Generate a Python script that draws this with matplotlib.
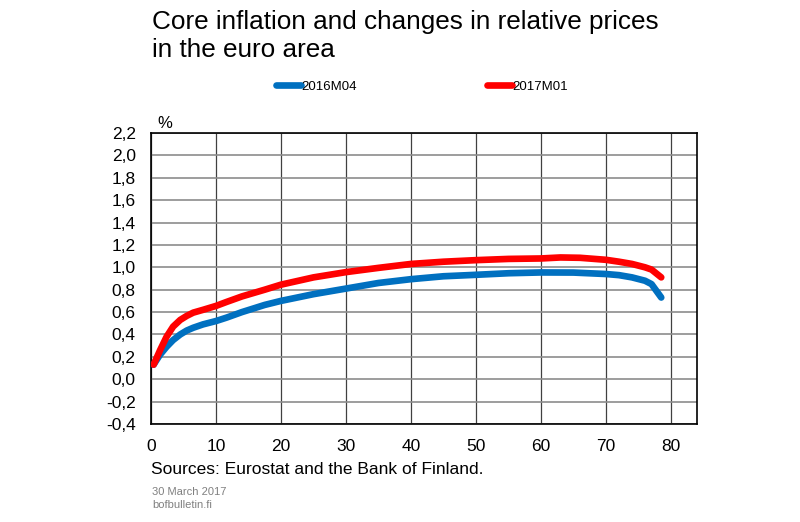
import matplotlib
matplotlib.use("Agg")
import matplotlib.pyplot as plt
from matplotlib.ticker import FuncFormatter

plt.rcParams['font.family'] = ['Liberation Sans', 'DejaVu Sans']

x_2016 = [0.4, 1.4, 2.4, 3.4, 4.5, 5.5, 6.5, 8, 10, 11.6, 14, 17.5, 20, 25, 30, 35, 40, 45, 50, 55, 60, 65, 70, 72, 74, 76, 77, 78.5]
y_2016 = [0.13, 0.22, 0.29, 0.35, 0.40, 0.435, 0.46, 0.49, 0.52, 0.55, 0.60, 0.664, 0.70, 0.76, 0.81, 0.86, 0.894, 0.92, 0.933, 0.947, 0.954, 0.953, 0.94, 0.93, 0.91, 0.88, 0.85, 0.73]

x_2017 = [0.4, 1.4, 2.4, 3.4, 4.5, 5.5, 6.5, 8, 10, 11.6, 14, 17.5, 20, 25, 30, 35, 40, 45, 50, 55, 60, 63, 66, 70, 72, 74, 76, 77, 78.5]
y_2017 = [0.13, 0.26, 0.38, 0.47, 0.53, 0.566, 0.595, 0.62, 0.655, 0.69, 0.74, 0.80, 0.845, 0.91, 0.957, 0.995, 1.03, 1.05, 1.064, 1.075, 1.079, 1.088, 1.085, 1.067, 1.05, 1.03, 1.0, 0.98, 0.91]

series_labels = ['2016M04', '2017M01']
y_ticks = [-0.4, -0.2, 0.0, 0.2, 0.4, 0.6, 0.8, 1.0, 1.2, 1.4, 1.6, 1.8, 2.0, 2.2]
x_ticks = [0, 10, 20, 30, 40, 50, 60, 70, 80]

fig = plt.figure(figsize=(8, 5.22), dpi=100)
ax = fig.add_axes([151/800, 1-424/522, (697-151)/800, (424-133)/522])

for xv in x_ticks:
    ax.axvline(xv, color='#404040', lw=0.9, zorder=1)
for yv in y_ticks:
    ax.axhline(yv, color='#8c8c8c', lw=1.2, zorder=1)

l1, = ax.plot(x_2016, y_2016, color='#0070c0', lw=4.8, solid_capstyle='round', solid_joinstyle='round', zorder=3)
l2, = ax.plot(x_2017, y_2017, color='#ff0000', lw=4.8, solid_capstyle='round', solid_joinstyle='round', zorder=4)

ax.set_xlim(0, 84)
ax.set_ylim(-0.4, 2.2)
ax.set_xticks(x_ticks)
ax.set_yticks(y_ticks)
ax.yaxis.set_major_formatter(FuncFormatter(lambda v, p: f"{v:.1f}".replace('.', ',').replace('-0,0', '0,0')))
ax.tick_params(axis='both', length=0, labelsize=12.5, colors='black')
ax.tick_params(axis='x', pad=11)
ax.tick_params(axis='y', pad=11)
for s in ax.spines.values():
    s.set_color('black')
    s.set_linewidth(1.2)

fig.text(152/800, 1-36/522, "Core inflation and changes in relative prices\nin the euro area",
         fontsize=18.8, ha='left', va='center', linespacing=1.25)
fig.legend([l1, l2], series_labels, loc='center', bbox_to_anchor=(422/800, 1-87/522),
           ncol=2, frameon=False, fontsize=9.5, handlelength=1.9, handletextpad=0.05,
           columnspacing=9.8, borderpad=0)
fig.text(157/800, 1-124/522, "%", fontsize=12, ha='left', va='center')
fig.text(151/800, 1-470/522, "Sources: Eurostat and the Bank of Finland.", fontsize=12.5, ha='left', va='center')
fig.text(152/800, 1-492/522, "30 March 2017", fontsize=8, color='#808080', ha='left', va='center')
fig.text(152/800, 1-505/522, "bofbulletin.fi", fontsize=8, color='#808080', ha='left', va='center')

fig.savefig("out.png", dpi=100)
